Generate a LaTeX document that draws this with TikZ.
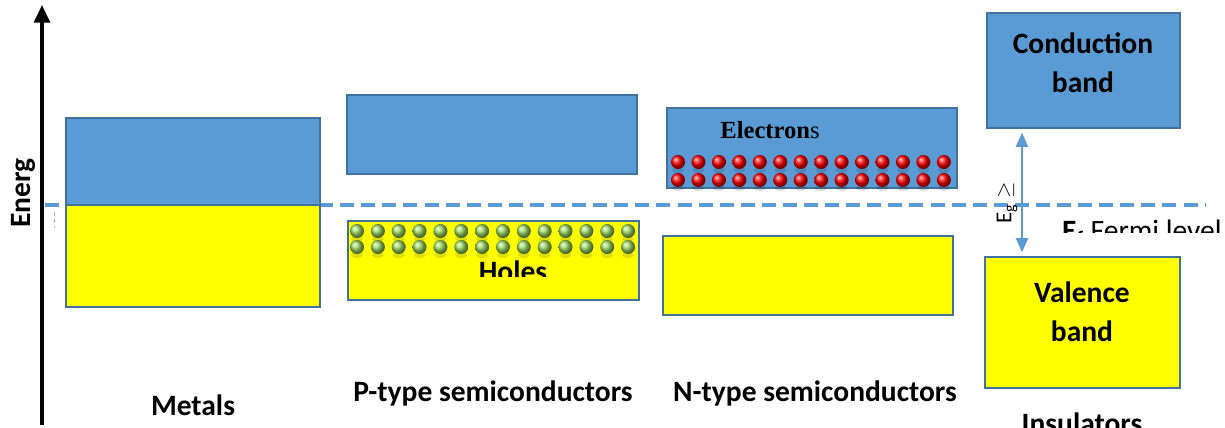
\documentclass[tikz,border=0pt]{standalone}
\usepackage{fontspec}
\setmainfont{Carlito}
\newfontfamily\timesfont{Liberation Serif}
\usepackage{tikz}
\usetikzlibrary{arrows.meta,shadings}

\definecolor{bandblue}{HTML}{5B9BD5}
\definecolor{bandedge}{HTML}{41719C}
\definecolor{bandyellow}{HTML}{FFFF00}
\definecolor{holegreen}{HTML}{9CD862}

\newlength{\pxu}
\setlength{\pxu}{0.02cm}
\tikzset{
  cband/.style={draw=bandedge,fill=bandblue,line width=0.9pt},
  vband/.style={draw=bandedge,fill=bandyellow,line width=0.9pt},
  kind/.style={font=\fontsize{16.8}{22}\selectfont\bfseries},
  electron/.style={circle,inner sep=0pt,minimum size=14\pxu,shading=ball,ball color=red},
  hole/.style={circle,inner sep=0pt,minimum size=14\pxu,shading=ball,ball color=holegreen},
  fermi/.style={bandblue,line width=2pt,dash pattern=on 8pt off 4pt}
}

\begin{document}
\begin{tikzpicture}[x=0.02cm,y=-0.02cm,>=Stealth]
\useasboundingbox (0,0) rectangle (1225,428);

% energy axis
\draw[line width=1.8pt,-{Triangle[length=10pt,width=9pt]}](42,425)--(42,5);
\node[kind,rotate=90](energ) at (23,193){Energ};

% fermi level
\draw[fermi](45,205)--(1205,205);
\draw[black!30,line width=0.4pt,dash pattern=on 2pt off 2pt](54,212)--(54,228);
\begin{scope}
\clip(1040,200)rectangle(1225,233);
\node[anchor=west,font=\fontsize{16.8}{20}\selectfont](fermitxt) at (1056,233){\textbf{E\textsubscript{f}} Fermi level};
\end{scope}

% metals
\draw[cband](66,118)rectangle(320,205);
\draw[vband](66,205)rectangle(320,307);
\node[kind](metals) at (193,405){Metals};

% p-type
\draw[cband](347,95)rectangle(637,174);
\draw[vband](348,221)rectangle(639,300);
\foreach \i in {0,...,13}{
  \foreach \y in {231,247}{
    \fill[black,opacity=0.12](357+20.85*\i,\y+8)ellipse[x radius=6,y radius=3];
    \node[hole](h\i\y) at (357+20.85*\i,\y){};
  }
}
\begin{scope}
\clip(348,221)rectangle(639,277);
\node[kind](holes) at (513,271){Holes};
\end{scope}
\node[kind](ptype) at (493,393){P-type semiconductors};

% n-type
\draw[cband](667,108)rectangle(957,188);
\node[font=\timesfont\fontsize{14}{16}\selectfont](electrons) at (770,130){\textbf{Electron}s};
\foreach \i in {0,...,13}{
  \foreach \y in {162,180}{
    \fill[black,opacity=0.12](678+20.45*\i,\y+8)ellipse[x radius=6,y radius=3];
    \node[electron](e\i\y) at (678+20.45*\i,\y){};
  }
}
\draw[vband](663,236)rectangle(953,315);
\node[kind](ntype) at (815,393){N-type semiconductors};

% insulators
\node[cband,minimum width=193\pxu,minimum height=115\pxu](cb) at (1083.5,70.5){};
\node[kind,align=center](cbtext) at (1083,63){Conduction\\band};
\node[vband,minimum width=195\pxu,minimum height=131\pxu](vb) at (1082.5,322.5){};
\node[kind,align=center](vbtext) at (1082,312){Valence\\band};
\coordinate(gx) at (1022,0);
\draw[bandblue,line width=0.6pt,{Triangle[length=8pt,width=7pt]}-{Triangle[length=8pt,width=7pt]}]
  ([yshift=-4\pxu]cb.south -| gx)--([yshift=4\pxu]vb.north -| gx);
\node[rotate=90,font=\fontsize{13}{15}\selectfont](eg) at (1007,203){E\textsubscript{g} $\geq$};
\node[kind](insul) at (1082,423){Insulators};
\end{tikzpicture}
\end{document}
